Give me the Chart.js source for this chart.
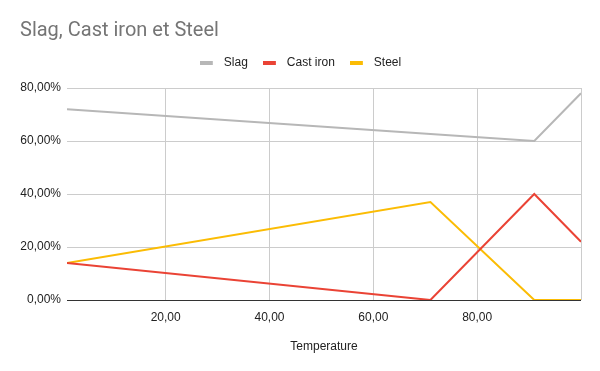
<!DOCTYPE html>
<html>
<head>
<meta charset="utf-8">
<script src="https://cdn.jsdelivr.net/npm/chart.js@4/dist/chart.umd.min.js"></script>
<style>
  html, body { margin: 0; padding: 0; background: #fff; }
  #wrap { width: 600px; height: 371px; }
</style>
</head>
<body>
<div id="wrap"><canvas id="chart"></canvas></div>
<script>
// Temperature values (x axis)
const temperatures = [1, 71, 91, 100];
// Percent values per series
const slag     = [72, 62.6, 60, 78];
const castIron = [14, 0, 40, 22];
const steel    = [14, 37, 0, 0];

const xTicks = [20, 40, 60, 80, 100];
const yTicks = [0, 20, 40, 60, 80];

const fmt = v => v.toFixed(2).replace('.', ',');

function toPoints(vals) {
    return vals.map((v, i) => ({ x: temperatures[i], y: v }));
}

// small legend swatch: 13px bar with empty space on the right
function swatch(color) {
    const c = document.createElement('canvas');
    c.width = 18;
    c.height = 4;
    const g = c.getContext('2d');
    g.fillStyle = color;
    g.fillRect(0, 0, 13, 4);
    return c;
}

function makeSet(label, vals, color) {
    return {
        label,
        data: toPoints(vals),
        borderColor: color,
        backgroundColor: color,
        borderWidth: 2,
        pointRadius: 0,
        pointStyle: swatch(color),
        tension: 0
    };
}

// extra room under the legend
const legendGap = {
    id: 'legendGap',
    beforeInit(chart) {
        const fit = chart.legend.fit;
        chart.legend.fit = function () {
            fit.bind(chart.legend)();
            this.height += 9;
        };
    }
};

const ctx = document.getElementById('chart').getContext('2d');
new Chart(ctx, {
    type: 'line',
    data: {
        datasets: [
            makeSet('Slag', slag, '#b7b7b7'),
            makeSet('Cast iron', castIron, '#ea4335'),
            makeSet('Steel', steel, '#fbbc04')
        ]
    },
    plugins: [legendGap],
    options: {
        responsive: true,
        maintainAspectRatio: false,
        animation: false,
        layout: { padding: { left: 20, right: 19, top: 0, bottom: 0 } },
        scales: {
            x: {
                type: 'linear',
                min: 1,
                max: 100,
                afterBuildTicks: s => { s.ticks = xTicks.map(v => ({ value: v })); },
                afterFit: s => { s.height = 71; },
                grid: { color: '#cccccc', drawTicks: false },
                border: { display: false },
                ticks: {
                    color: '#222',
                    font: { family: 'Liberation Sans, Arial', size: 12 },
                    padding: 10,
                    callback: v => v === 100 ? '' : fmt(v)
                },
                title: {
                    display: true,
                    text: 'Temperature',
                    color: '#222',
                    font: { family: 'Liberation Sans, Arial', size: 12 },
                    padding: { top: 1, bottom: 17 }
                }
            },
            y: {
                min: 0,
                max: 80,
                afterBuildTicks: s => { s.ticks = yTicks.map(v => ({ value: v })); },
                afterFit: s => { s.width = 47; },
                grid: {
                    color: c => c.tick.value === 0 ? '#333333' : '#cccccc',
                    drawTicks: false
                },
                border: { display: false },
                ticks: {
                    color: '#222',
                    font: { family: 'Liberation Sans, Arial', size: 12 },
                    padding: 6,
                    callback: v => fmt(v) + '%'
                }
            }
        },
        plugins: {
            title: {
                display: true,
                text: 'Slag, Cast iron et Steel',
                align: 'start',
                color: '#757575',
                font: { family: 'Roboto, Liberation Sans', size: 20, weight: 'normal', lineHeight: 1 },
                padding: { top: 21, bottom: 1 }
            },
            legend: {
                display: true,
                position: 'top',
                labels: {
                    color: '#222',
                    font: { family: 'Liberation Sans, Arial', size: 12 },
                    usePointStyle: true,
                    pointStyleWidth: 18,
                    boxHeight: 4,
                    padding: 15
                }
            },
            tooltip: { enabled: false }
        }
    }
});
</script>
</body>
</html>
